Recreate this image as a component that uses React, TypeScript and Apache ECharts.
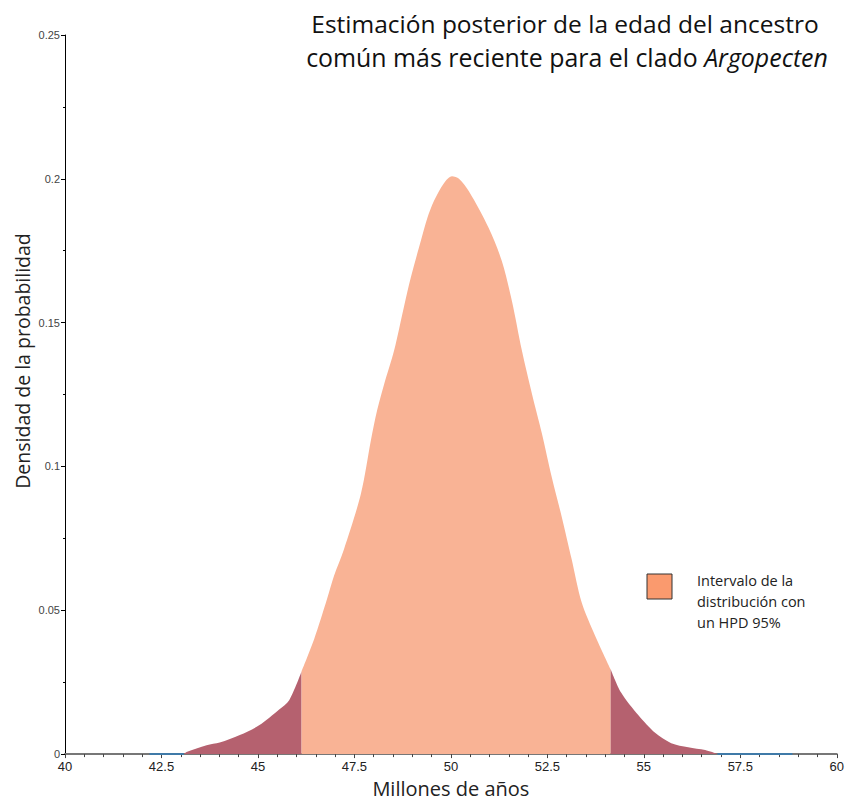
import React, { useEffect, useRef } from "react";
import * as echarts from "echarts";

// Left tail (outside HPD)
const leftTailX = [43.08, 43.15, 43.67, 44.01, 44.53, 45.03, 45.55, 45.81, 46.13];
const leftTailY = [0, 0.0007, 0.0031, 0.004, 0.0066, 0.01, 0.0155, 0.0187, 0.0287];

// HPD 95% interval
const centerX = [46.13, 46.46, 46.79, 46.97, 47.23, 47.67, 47.93, 48.09, 48.27, 48.53, 48.78, 48.96, 49.22, 49.39, 49.56, 49.82, 50.03, 50.21, 50.47, 50.98, 51.32, 51.58, 51.84, 52.1, 52.36, 52.61, 52.87, 53.13, 53.39, 53.74, 54.14];
const centerY = [0.0287, 0.0401, 0.0539, 0.0619, 0.0712, 0.0906, 0.1093, 0.1196, 0.1286, 0.1404, 0.1553, 0.1656, 0.1784, 0.1864, 0.1923, 0.1985, 0.2009, 0.2, 0.1956, 0.1829, 0.1714, 0.1576, 0.1403, 0.1253, 0.1114, 0.0965, 0.0826, 0.0677, 0.0527, 0.0411, 0.0295];

// Right tail (outside HPD)
const rightTailX = [54.14, 54.41, 54.86, 55.3, 55.71, 56.15, 56.59, 56.92];
const rightTailY = [0.0295, 0.0214, 0.0135, 0.0073, 0.0038, 0.0024, 0.0014, 0];

// Baseline segments (blue)
const baseLeftX = [42.19, 43.08];
const baseRightX = [56.91, 58.85];

const pairs = (xs: number[], ys: number[]) => xs.map((x, i) => [x, ys[i]]);

export default function App() {
  const ref = useRef<HTMLDivElement>(null);
  useEffect(() => {
    if (!ref.current) return;
    document.body.style.margin = "0";
    const chart = echarts.init(ref.current, undefined, { renderer: "svg" });
    const tailColor = "#b5616f";
    const centerColor = "#f9b395";
    const titleSize = 24.5;
    chart.setOption({
      animation: false,
      backgroundColor: "#ffffff",
      title: [
        {
          text: "Estimación posterior de la edad del ancestro",
          left: 560,
          top: 6,
          textAlign: "center",
          textStyle: { fontFamily: "Open Sans", fontSize: titleSize, fontWeight: "normal", color: "#111" },
        },
        {
          text: "común más reciente para el clado {i|Argopecten}",
          left: 562,
          top: 39,
          textAlign: "center",
          textStyle: {
            fontFamily: "Open Sans",
            fontSize: 24.9,
            fontWeight: "normal",
            color: "#111",
            rich: { i: { fontFamily: "Open Sans", fontSize: 24.9, fontStyle: "italic", color: "#111" } },
          },
        },
      ],
      grid: { left: 65, right: 8, top: 35, bottom: 44, containLabel: false },
      xAxis: {
        type: "value",
        min: 40,
        max: 60,
        interval: 2.5,
        name: "Millones de años",
        nameLocation: "middle",
        nameGap: 18,
        nameTextStyle: { fontFamily: "Open Sans", fontSize: 20, color: "#222", verticalAlign: "top" },
        axisLine: { show: true, onZero: false, lineStyle: { color: "#777", width: 2 } },
        axisTick: { show: true, length: 4, lineStyle: { color: "#444" } },
        minorTick: { show: true, splitNumber: 5, length: 3, lineStyle: { color: "#444" } },
        axisLabel: {
          fontFamily: "Liberation Sans Narrow, Arial Narrow, Liberation Sans, sans-serif",
          fontSize: 13,
          color: "#222",
          margin: 6,
          showMinLabel: true,
          showMaxLabel: true,
        },
        splitLine: { show: false },
      },
      yAxis: {
        type: "value",
        min: 0,
        max: 0.25,
        interval: 0.05,
        axisLine: { show: true, lineStyle: { color: "#000", width: 1 } },
        axisTick: { show: true, length: 4, lineStyle: { color: "#000" } },
        minorTick: { show: true, splitNumber: 2, length: 2, lineStyle: { color: "#000" } },
        axisLabel: { fontFamily: "Liberation Sans, Arial, sans-serif", fontSize: 11, color: "#444", margin: 5 },
        splitLine: { show: false },
      },
      graphic: [
        {
          type: "text",
          x: 22,
          y: 361,
          rotation: Math.PI / 2,
          style: {
            text: "Densidad de la probabilidad",
            fontFamily: "Open Sans",
            fontSize: 19.5,
            fill: "#222",
            textAlign: "center",
            textVerticalAlign: "middle",
          },
        },
        {
          type: "rect",
          shape: { x: 647, y: 574, width: 25, height: 25 },
          style: { fill: "#fa9a6e", stroke: "#333", lineWidth: 1 },
        },
        {
          type: "text",
          x: 697,
          y: 570,
          style: {
            text: "Intervalo de la\ndistribución con\nun HPD 95%",
            fontFamily: "Open Sans",
            fontSize: 14.5,
            lineHeight: 21,
            fill: "#222",
          },
        },
      ],
      series: [
        {
          type: "line",
          data: pairs(leftTailX, leftTailY),
          smooth: 0.3,
          showSymbol: false,
          lineStyle: { width: 0 },
          areaStyle: { color: tailColor, opacity: 1 },
          z: 2,
        },
        {
          type: "line",
          data: pairs(centerX, centerY),
          smooth: 0.3,
          showSymbol: false,
          lineStyle: { width: 0 },
          areaStyle: { color: centerColor, opacity: 1 },
          z: 2,
        },
        {
          type: "line",
          data: pairs(rightTailX, rightTailY),
          smooth: 0.3,
          showSymbol: false,
          lineStyle: { width: 0 },
          areaStyle: { color: tailColor, opacity: 1 },
          z: 2,
        },
        {
          type: "line",
          data: baseLeftX.map((x) => [x, 0]),
          showSymbol: false,
          lineStyle: { width: 2, color: "#3f7aa8" },
          z: 3,
        },
        {
          type: "line",
          data: baseRightX.map((x) => [x, 0]),
          showSymbol: false,
          lineStyle: { width: 2, color: "#3f7aa8" },
          z: 3,
        },
      ],
    });
    return () => chart.dispose();
  }, []);
  return <div ref={ref} style={{ width: 847, height: 803 }} />;
}
